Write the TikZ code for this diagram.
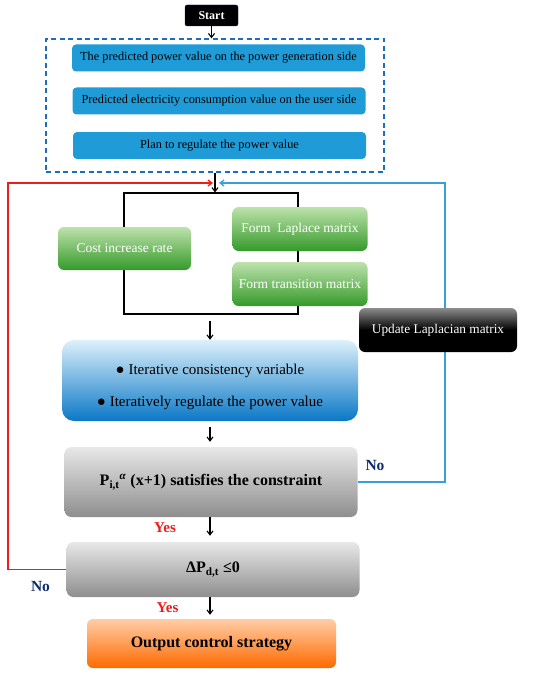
\documentclass[tikz,border=0pt]{standalone}
\usepackage{fontspec}
\setmainfont{Liberation Serif}
\usetikzlibrary{arrows.meta}
\definecolor{predblue}{HTML}{1F9BD8}
\definecolor{dashblue}{HTML}{1A6DBF}
\definecolor{loopblue}{HTML}{3A9EDC}
\definecolor{loopred}{HTML}{EE1C1C}
\definecolor{navy}{HTML}{102C70}
\definecolor{greentop}{HTML}{BDE2AC}
\definecolor{greenbot}{HTML}{359A2A}
\definecolor{itertop}{HTML}{DDF0FB}
\definecolor{itermid}{HTML}{3EA6E4}
\definecolor{iterbot}{HTML}{0A78C6}
\definecolor{greytop}{HTML}{E8E8E8}
\definecolor{greybot}{HTML}{8E8E8E}
\definecolor{orangetop}{HTML}{FFCDA6}
\definecolor{orangebot}{HTML}{FF6A00}

\begin{document}
\begin{tikzpicture}[x=1pt,y=-1pt]
\tikzstyle{every node}+=[inner sep=0pt]
\tikzstyle{predbox}=[fill=predblue,rounded corners=4pt,minimum width=293pt,minimum height=27pt,font=\fontsize{12.3}{14}\selectfont]
\tikzstyle{greenbox}=[top color=greentop,bottom color=greenbot,rounded corners=6pt,text=white,minimum width=135pt,minimum height=44pt,font=\fontsize{13.5}{15}\selectfont]
\tikzstyle{greybox}=[top color=greytop,bottom color=greybot,rounded corners=7pt,minimum width=293pt,font=\bfseries\fontsize{16}{18}\selectfont]
\tikzstyle{flow}=[black,line width=1.1pt,-{Straight Barb[length=4pt,width=6pt]}]
\tikzstyle{loop}=[line width=1.3pt,-{Straight Barb[length=4pt,width=6pt]}]
\tikzstyle{yes}=[text=loopred,font=\bfseries\fontsize{15}{17}\selectfont]
\tikzstyle{no}=[text=navy,font=\bfseries\fontsize{15.5}{17}\selectfont]
\useasboundingbox (0,0) rectangle (550,674);

\node [fill=black,draw=navy,rounded corners=2pt,minimum width=53pt,minimum height=21pt,text=white,font=\bfseries\fontsize{12}{14}\selectfont] (start) at (211.5,15.5) {Start};
\node [draw=dashblue,line width=1.3pt,dash pattern=on 5pt off 3.5pt,minimum width=338pt,minimum height=133pt] (grp) at (215,105.5) {};
\node [predbox] (gen) at (218.5,58) {The predicted power value on the power generation side};
\node [predbox] (user) at (219,101) {Predicted electricity consumption value on the user side};
\node [predbox] (plan) at (219.5,145.5) {Plan to regulate the power value};

\node [draw=black,line width=1.1pt,minimum width=174pt,minimum height=121pt] (brk) at (211,253.5) {};
\node [greenbox,minimum width=133pt,minimum height=43pt] (cost) at (124.5,248.5) {Cost increase rate};
\node [greenbox] (lap) at (300,229) {Form\ \ Laplace matrix};
\node [greenbox] (trans) at (300,284) {Form transition matrix};

\node [top color=itertop,middle color=itermid,bottom color=iterbot,rounded corners=12pt,minimum width=296pt,minimum height=81pt] (iter) at (210,380.5) {};
\node [align=center,font=\fontsize{15}{32}\selectfont] (itertxt) at ([yshift=-6pt]iter.center) {● Iterative consistency variable\\● Iteratively regulate the power value};
\node [greybox,minimum height=70pt] (cons) at (211,482) {P\textsubscript{i,t}\textsuperscript{\textit{α}} (x+1) satisfies the constraint};
\node [greybox,minimum height=55pt] (dp) at (213,569.5) {ΔP\textsubscript{d,t} ≤0};
\node [top color=orangetop,bottom color=orangebot,rounded corners=6pt,minimum width=249pt,minimum height=49pt,font=\bfseries\fontsize{16}{18}\selectfont] (out) at (211.5,643.5) {Output control strategy};

\coordinate (redin) at (213,183);
\coordinate (redcorner) at (8,183);
\coordinate (bluein) at (219,183);
\coordinate (bluecorner) at (445,183);

\draw [flow] (start) -- (grp.north -| start);
\draw [flow] (grp.south) -- (grp.south |- brk.north);
\draw [flow,shorten <=6pt] (brk.south -| iter) -- (iter.north);
\draw [flow,shorten <=6pt,shorten >=5pt] (iter.south) -- (iter.south |- cons.north);
\draw [flow,shorten >=6pt] (cons.south -| iter) -- (dp.north -| iter);
\draw [flow,shorten >=4pt] (dp.south -| iter) -- (out.north -| iter);

\draw [loop,loopred] (dp.west) -| (redcorner) -- (redin);
\draw [loop,loopblue] (cons.east) -| (bluecorner) -- (bluein);

\node [top color=black!45,bottom color=black,middle color=black,rounded corners=6pt,minimum width=158pt,minimum height=44pt,text=white,font=\fontsize{13.3}{15}\selectfont] (upd) at (438,330) {Update Laplacian matrix};

\node [yes] (yes1) at (165,528) {Yes};
\node [yes] (yes2) at (167.5,608) {Yes};
\node [no] (no1) at (375,465) {No};
\node [no] (no2) at (40.5,586) {No};
\end{tikzpicture}
\end{document}
